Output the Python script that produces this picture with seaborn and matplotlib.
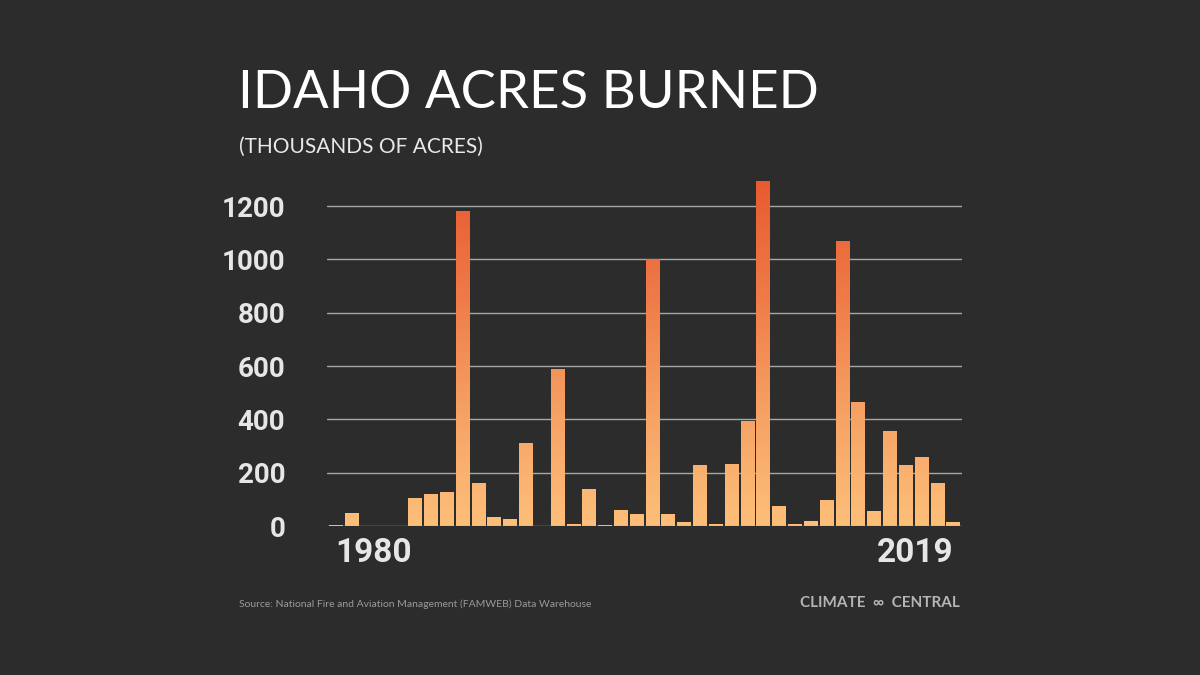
"""Idaho acres burned, 1980-2019, bar chart in the Climate Central style."""

import numpy as np
import pandas as pd
import matplotlib
matplotlib.use('Agg')
import matplotlib.pyplot as plt
from matplotlib.colors import LinearSegmentedColormap
import seaborn as sns

# Data (thousands of acres).
years = list(range(1980, 2020))
acres = [3, 50, 0, 0, 0, 104, 120, 128, 1180, 163,
         33, 28, 310, 0, 590, 7, 137, 3, 60, 45,
         1000, 45, 15, 228, 6, 233, 395, 1295, 75, 6,
         20, 98, 1070, 465, 58, 358, 228, 258, 162, 15]
yticks = [0, 200, 400, 600, 800, 1000, 1200]

df = pd.DataFrame({'year': years, 'acres': acres})

bg = '#2c2c2c'
sns.set_theme(style='dark')
fig = plt.figure(figsize=(12, 6.75), dpi=100, facecolor=bg)
ax = fig.add_axes([0.2725, 0.2207, 0.529, 0.5136])
ax.set_facecolor(bg)

sns.barplot(data=df, x='year', y='acres', ax=ax, width=0.84, color='#f9b26e',
            saturation=1, zorder=3, linewidth=0, edgecolor='none')

# Gradient fill: light peach at the bottom, deep orange near the top.
cmap = LinearSegmentedColormap.from_list('fire', ['#fdbf7a', '#f6a164', '#ef7a48', '#e85a30'])
grad = np.linspace(0, 1, 256).reshape(-1, 1)
for bar in ax.patches:
    h = bar.get_height()
    if h <= 0:
        continue
    x0 = bar.get_x()
    w = bar.get_width()
    im = ax.imshow(grad, cmap=cmap, origin='lower', aspect='auto',
                   extent=(x0, x0 + w, 0, 1300), vmin=0, vmax=1, zorder=4)
    im.set_clip_path(bar)

ax.set_xlim(-0.55, len(years) - 0.45)
ax.set_ylim(0, 1300)
for v in yticks[1:]:
    ax.axhline(v, color='#a8a8a8', lw=1, zorder=1)
ax.axhline(0, color='#a8a8a8', lw=1, zorder=5)

tick_font = dict(family=['Roboto', 'DejaVu Sans'], weight='bold', color='#e6e6e6')
ax.set_yticks(yticks)
ax.set_yticklabels([str(v) for v in yticks], fontsize=20, **tick_font)
ax.tick_params(axis='y', length=0, pad=30)
ax.set_xticks([0, len(years) - 1])
ax.set_xticklabels(['1980', '2019'], fontsize=24, **tick_font)
ax.tick_params(axis='x', length=0, pad=8)
ax.get_xticklabels()[0].set_ha('left')
ax.get_xticklabels()[1].set_ha('right')
ax.set_xlabel('')
ax.set_ylabel('')
ax.grid(False)
for s in ax.spines.values():
    s.set_visible(False)

fig.text(0.198, 0.862, 'IDAHO ACRES BURNED', fontsize=38, color='white',
         family=['Lato', 'DejaVu Sans'], va='center')
fig.text(0.199, 0.782, '(THOUSANDS OF ACRES)', fontsize=15, color='#e8e8e8',
         family=['Lato', 'DejaVu Sans'], va='center')
fig.text(0.199, 0.105, 'Source: National Fire and Aviation Management (FAMWEB) Data Warehouse',
         fontsize=7.5, color='#9a9a9a', family=['Lato', 'DejaVu Sans'], va='center')
fig.text(0.80, 0.106, 'CLIMATE  \u221e  CENTRAL', fontsize=11, color='#b5b5b5', weight='bold',
         family=['Lato', 'DejaVu Sans'], va='center', ha='right')

fig.savefig('out.png', dpi=100, facecolor=bg)
